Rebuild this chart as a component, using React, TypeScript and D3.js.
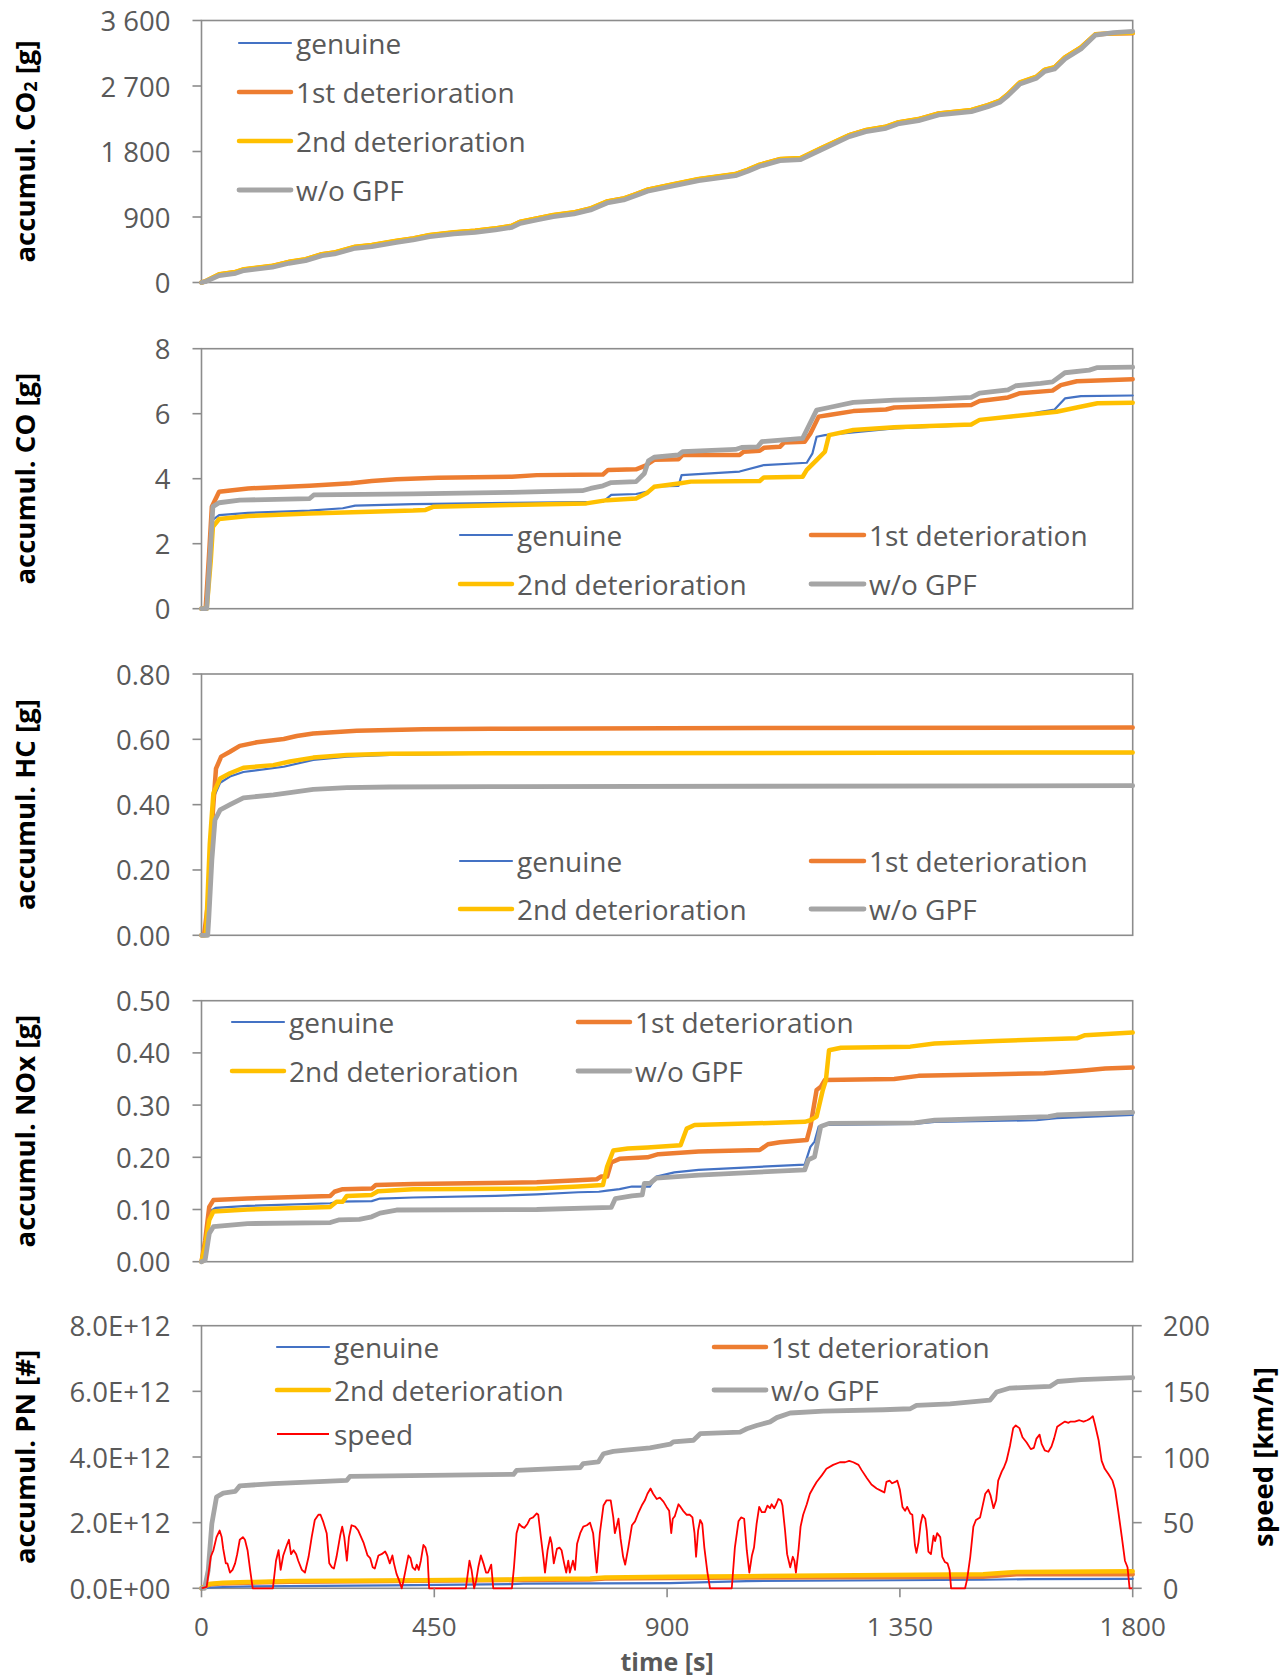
import React from 'react';
import * as d3 from 'd3';

// ---------- shared ----------
const TIME_TICKS = [0, 450, 900, 1350, 1800];
const SERIES_NAMES = ['genuine', '1st deterioration', '2nd deterioration', 'w/o GPF'];
const SERIES_COLORS = ['#4472C4', '#ED7D31', '#FFC000', '#A5A5A5'];
const SERIES_WIDTHS = [2.2, 4.5, 4.5, 4.8];

// ---------- CO2 (g) ----------
const CO2_TICKS = [0, 900, 1800, 2700, 3600];
const co2Time = [0, 7, 34, 66, 82, 137, 169, 201, 233, 257, 297, 329, 377, 409, 441, 488, 529, 568, 600, 616, 648, 680, 720, 752, 784, 816, 840, 862, 914, 961, 1032, 1056, 1079, 1118, 1158, 1197, 1252, 1284, 1323, 1346, 1386, 1425, 1488, 1520, 1543, 1559, 1582, 1614, 1630, 1649, 1669, 1700, 1728, 1763, 1800];
const co2Genuine = [0, 14, 105, 137, 174, 220, 275, 311, 380, 403, 481, 504, 563, 595, 641, 678, 701, 733, 769, 824, 870, 916, 953, 1008, 1104, 1145, 1205, 1265, 1342, 1411, 1479, 1539, 1608, 1685, 1699, 1832, 2015, 2084, 2130, 2189, 2235, 2313, 2359, 2427, 2487, 2579, 2739, 2817, 2913, 2946, 3083, 3220, 3403, 3418, 3425];
const co2First = [0, 15, 110, 143, 180, 227, 282, 318, 388, 411, 489, 512, 571, 604, 650, 687, 710, 742, 778, 833, 879, 925, 962, 1017, 1113, 1154, 1214, 1274, 1351, 1420, 1488, 1548, 1617, 1694, 1708, 1841, 2024, 2093, 2139, 2198, 2244, 2322, 2368, 2436, 2496, 2588, 2748, 2826, 2922, 2955, 3092, 3229, 3410, 3420, 3425];
const co2Second = [0, 16, 112, 145, 182, 229, 284, 320, 390, 413, 491, 514, 573, 606, 652, 689, 712, 744, 780, 835, 881, 927, 964, 1019, 1115, 1156, 1216, 1276, 1353, 1422, 1490, 1550, 1619, 1696, 1710, 1843, 2026, 2095, 2141, 2200, 2246, 2324, 2370, 2438, 2498, 2590, 2750, 2828, 2924, 2957, 3094, 3231, 3412, 3424, 3430];
const co2WoGpf = [0, 10, 95, 127, 164, 210, 264, 300, 369, 392, 470, 493, 552, 584, 630, 667, 690, 722, 758, 813, 859, 905, 942, 997, 1093, 1134, 1194, 1254, 1331, 1400, 1468, 1528, 1597, 1674, 1688, 1821, 2004, 2073, 2119, 2178, 2224, 2302, 2348, 2416, 2476, 2568, 2728, 2806, 2902, 2935, 3072, 3209, 3400, 3432, 3450];

// ---------- CO (g) [time, value] ----------
const CO_TICKS = [0, 2, 4, 6, 8];
const coGenuine = [[0, 0], [10, 0], [16, 1.5], [22, 2.73], [34, 2.88], [90, 2.95], [209, 3.02], [273, 3.09], [297, 3.17], [409, 3.22], [600, 3.26], [776, 3.29], [792, 3.5], [840, 3.53], [862, 3.6], [875, 3.76], [922, 3.78], [928, 4.11], [1040, 4.22], [1087, 4.42], [1170, 4.49], [1181, 4.78], [1189, 5.29], [1205, 5.34], [1339, 5.55], [1488, 5.65], [1504, 5.81], [1574, 5.91], [1622, 6.06], [1649, 6.13], [1669, 6.47], [1700, 6.54], [1800, 6.56]];
const coFirst = [[0, 0], [8, 0], [14, 1.5], [20, 3.14], [34, 3.6], [90, 3.7], [209, 3.78], [289, 3.86], [329, 3.93], [377, 3.98], [457, 4.03], [600, 4.06], [648, 4.11], [776, 4.13], [786, 4.27], [840, 4.29], [858, 4.4], [875, 4.58], [922, 4.6], [930, 4.73], [1040, 4.73], [1048, 4.83], [1079, 4.86], [1087, 4.95], [1118, 4.98], [1126, 5.11], [1166, 5.14], [1177, 5.39], [1193, 5.91], [1213, 5.96], [1260, 6.08], [1323, 6.13], [1339, 6.19], [1488, 6.27], [1504, 6.39], [1559, 6.5], [1582, 6.63], [1645, 6.71], [1661, 6.88], [1692, 7.0], [1800, 7.06]];
const coSecond = [[0, 0], [10, 0], [18, 1.5], [22, 2.52], [34, 2.76], [90, 2.85], [209, 2.93], [409, 3.02], [433, 3.04], [449, 3.14], [600, 3.19], [744, 3.24], [784, 3.34], [840, 3.39], [862, 3.57], [875, 3.75], [926, 3.86], [946, 3.91], [1079, 3.93], [1087, 4.04], [1162, 4.06], [1170, 4.27], [1189, 4.57], [1205, 4.83], [1213, 5.34], [1260, 5.5], [1339, 5.58], [1488, 5.67], [1504, 5.81], [1574, 5.93], [1653, 6.06], [1692, 6.19], [1732, 6.32], [1800, 6.34]];
const coWoGpf = [[0, 0], [10, 0], [16, 1.5], [22, 3.14], [34, 3.26], [74, 3.34], [209, 3.39], [217, 3.5], [409, 3.53], [600, 3.58], [736, 3.63], [752, 3.7], [776, 3.78], [792, 3.88], [840, 3.91], [856, 4.16], [864, 4.55], [875, 4.66], [922, 4.73], [930, 4.83], [1032, 4.9], [1044, 4.96], [1075, 4.98], [1083, 5.14], [1162, 5.24], [1173, 5.6], [1189, 6.11], [1213, 6.19], [1260, 6.35], [1339, 6.42], [1417, 6.45], [1488, 6.5], [1504, 6.63], [1559, 6.73], [1574, 6.86], [1622, 6.93], [1645, 6.98], [1669, 7.26], [1716, 7.34], [1732, 7.42], [1800, 7.43]];

// ---------- HC (g) ----------
const HC_TICKS = [0, 0.2, 0.4, 0.6, 0.8];
const hcGenuine = [[0, 0], [8, 0], [10, 0.05], [16, 0.28], [23, 0.42], [36, 0.467], [55, 0.486], [81, 0.5], [159, 0.516], [216, 0.537], [281, 0.547], [364, 0.552], [558, 0.556], [1800, 0.558]];
const hcFirst = [[0, 0], [5, 0], [15, 0.13], [22, 0.38], [28, 0.51], [38, 0.547], [55, 0.562], [74, 0.58], [107, 0.591], [159, 0.601], [184, 0.61], [216, 0.618], [300, 0.626], [429, 0.631], [558, 0.632], [900, 0.634], [1800, 0.636]];
const hcSecond = [[0, 0], [8, 0], [10, 0.05], [16, 0.28], [23, 0.435], [36, 0.48], [55, 0.496], [81, 0.513], [139, 0.521], [171, 0.532], [216, 0.544], [281, 0.552], [364, 0.556], [558, 0.557], [1800, 0.56]];
const hcWoGpf = [[0, 0], [12, 0], [14, 0.05], [20, 0.23], [26, 0.353], [36, 0.384], [55, 0.4], [81, 0.421], [139, 0.43], [171, 0.437], [216, 0.447], [281, 0.452], [364, 0.454], [558, 0.455], [1800, 0.458]];

// ---------- NOx (g) ----------
const NOX_TICKS = [0, 0.1, 0.2, 0.3, 0.4, 0.5];
const noxGenuine = [[0, 0], [7, 0.04], [15, 0.096], [27, 0.103], [89, 0.107], [249, 0.112], [265, 0.115], [329, 0.116], [345, 0.121], [409, 0.123], [568, 0.126], [648, 0.129], [728, 0.133], [768, 0.134], [784, 0.136], [808, 0.139], [832, 0.144], [867, 0.144], [879, 0.163], [914, 0.171], [961, 0.176], [1166, 0.186], [1177, 0.22], [1185, 0.23], [1193, 0.259], [1205, 0.262], [1378, 0.264], [1417, 0.268], [1614, 0.271], [1653, 0.275], [1800, 0.281]];
const noxFirst = [[0, 0], [7, 0.04], [15, 0.105], [23, 0.118], [89, 0.121], [249, 0.126], [257, 0.134], [273, 0.139], [329, 0.14], [337, 0.147], [409, 0.149], [648, 0.152], [728, 0.156], [764, 0.158], [772, 0.163], [784, 0.163], [792, 0.19], [808, 0.197], [862, 0.2], [883, 0.206], [961, 0.211], [1079, 0.214], [1095, 0.225], [1118, 0.229], [1170, 0.233], [1177, 0.259], [1189, 0.329], [1197, 0.335], [1205, 0.348], [1339, 0.35], [1386, 0.356], [1535, 0.359], [1629, 0.361], [1700, 0.366], [1747, 0.37], [1800, 0.372]];
const noxSecond = [[0, 0], [7, 0.03], [15, 0.08], [23, 0.096], [89, 0.1], [249, 0.105], [261, 0.115], [273, 0.115], [281, 0.126], [329, 0.128], [341, 0.135], [409, 0.139], [648, 0.14], [728, 0.144], [776, 0.147], [784, 0.182], [796, 0.213], [824, 0.217], [862, 0.219], [926, 0.223], [938, 0.255], [953, 0.262], [1071, 0.265], [1166, 0.268], [1177, 0.271], [1189, 0.278], [1201, 0.329], [1207, 0.348], [1213, 0.405], [1236, 0.41], [1370, 0.412], [1417, 0.418], [1535, 0.423], [1692, 0.428], [1708, 0.434], [1800, 0.439]];
const noxWoGpf = [[0, 0], [7, 0.003], [15, 0.054], [23, 0.067], [89, 0.073], [249, 0.075], [265, 0.08], [305, 0.081], [329, 0.086], [345, 0.093], [377, 0.099], [648, 0.1], [792, 0.104], [800, 0.121], [832, 0.126], [852, 0.128], [856, 0.15], [867, 0.15], [879, 0.16], [961, 0.166], [1166, 0.176], [1173, 0.195], [1185, 0.201], [1197, 0.259], [1213, 0.265], [1378, 0.266], [1417, 0.271], [1637, 0.278], [1653, 0.281], [1800, 0.286]];

// ---------- PN (#, in units of 1E12) ----------
const PN_TICKS = [0, 2e12, 4e12, 6e12, 8e12];
const SPEED_TICKS = [0, 50, 100, 150, 200];
const pnGenuine = [[0, 0], [15, 0.02], [42, 0.04], [100, 0.06], [364, 0.09], [600, 0.13], [622, 0.14], [906, 0.16], [1054, 0.22], [1511, 0.26], [1600, 0.28], [1800, 0.29]];
const pnFirst = [[0, 0], [10, 0.08], [18, 0.12], [42, 0.15], [90, 0.17], [171, 0.2], [364, 0.22], [600, 0.25], [751, 0.27], [780, 0.3], [906, 0.31], [1054, 0.33], [1511, 0.35], [1576, 0.43], [1800, 0.43]];
const pnSecond = [[0, 0], [10, 0.1], [18, 0.14], [42, 0.17], [90, 0.19], [171, 0.22], [364, 0.24], [600, 0.27], [622, 0.28], [751, 0.3], [780, 0.33], [906, 0.35], [1054, 0.37], [1511, 0.43], [1560, 0.48], [1576, 0.5], [1800, 0.52]];
const pnWoGpf = [[0, 0], [6, 0], [13, 0.55], [20, 1.97], [29, 2.78], [42, 2.9], [65, 2.95], [74, 3.12], [139, 3.19], [281, 3.29], [287, 3.41], [603, 3.47], [609, 3.59], [732, 3.68], [738, 3.8], [767, 3.85], [777, 4.1], [796, 4.17], [815, 4.2], [867, 4.28], [906, 4.39], [912, 4.46], [951, 4.51], [964, 4.71], [1041, 4.76], [1054, 4.86], [1073, 4.96], [1099, 5.07], [1112, 5.2], [1138, 5.34], [1202, 5.4], [1318, 5.44], [1370, 5.47], [1382, 5.57], [1447, 5.62], [1524, 5.73], [1537, 5.98], [1563, 6.1], [1640, 6.15], [1655, 6.3], [1700, 6.36], [1800, 6.42]];

// ---------- speed (km/h) ----------
const speedTrace = [[0, 0], [10, 1], [18, 24], [23, 29], [29, 39], [35, 44], [39, 39], [42, 30], [47, 19], [50, 19], [55, 12], [60, 14], [65, 19], [69, 26], [74, 37], [80, 39], [84, 37], [89, 29], [94, 14], [99, 0], [138, 0], [144, 21], [149, 29], [153, 14], [158, 25], [165, 33], [169, 37], [173, 26], [178, 29], [183, 26], [187, 21], [194, 14], [200, 12], [207, 24], [213, 39], [219, 52], [226, 56], [230, 56], [235, 51], [242, 42], [247, 19], [252, 16], [256, 15], [261, 24], [268, 40], [272, 47], [276, 39], [281, 21], [285, 39], [290, 48], [297, 47], [303, 44], [313, 35], [321, 25], [326, 23], [331, 16], [335, 15], [342, 25], [348, 26], [355, 28], [359, 25], [364, 19], [369, 25], [372, 19], [377, 11], [382, 6], [387, 0], [390, 5], [395, 15], [400, 25], [404, 23], [408, 16], [413, 14], [416, 18], [420, 14], [424, 21], [429, 33], [433, 31], [437, 24], [440, 0], [511, 0], [518, 21], [522, 14], [527, 0], [531, 6], [535, 16], [540, 25], [545, 19], [550, 12], [554, 12], [560, 18], [564, 0], [600, 0], [604, 16], [609, 42], [614, 49], [619, 47], [624, 46], [630, 49], [635, 53], [641, 54], [648, 57], [651, 56], [656, 39], [661, 23], [664, 12], [669, 29], [674, 39], [677, 34], [681, 19], [687, 30], [692, 31], [696, 29], [701, 19], [705, 12], [709, 21], [712, 12], [718, 21], [722, 14], [726, 34], [732, 42], [738, 47], [745, 48], [751, 50], [757, 42], [764, 12], [770, 42], [777, 63], [783, 67], [791, 67], [796, 54], [799, 42], [803, 48], [806, 53], [810, 38], [815, 24], [819, 18], [825, 31], [832, 48], [838, 51], [844, 57], [851, 63], [857, 67], [862, 72], [868, 76], [873, 72], [880, 68], [886, 69], [893, 66], [899, 62], [904, 59], [908, 42], [911, 53], [915, 55], [922, 64], [926, 62], [931, 59], [938, 56], [944, 56], [949, 54], [953, 42], [956, 24], [960, 44], [964, 52], [968, 49], [972, 31], [978, 12], [983, 0], [1025, 0], [1031, 31], [1038, 51], [1043, 54], [1049, 53], [1054, 29], [1059, 12], [1064, 25], [1068, 31], [1073, 49], [1078, 62], [1083, 58], [1089, 58], [1094, 63], [1099, 61], [1102, 64], [1107, 61], [1111, 64], [1115, 68], [1120, 67], [1123, 63], [1128, 44], [1132, 26], [1138, 16], [1143, 24], [1146, 21], [1149, 12], [1154, 29], [1158, 47], [1163, 56], [1170, 64], [1176, 72], [1183, 77], [1189, 81], [1199, 86], [1208, 91], [1221, 94], [1234, 96], [1244, 96], [1252, 97], [1260, 96], [1270, 94], [1276, 90], [1286, 84], [1295, 79], [1305, 76], [1315, 74], [1320, 73], [1324, 81], [1330, 82], [1335, 80], [1341, 81], [1345, 82], [1350, 75], [1355, 62], [1360, 59], [1364, 62], [1370, 57], [1374, 56], [1379, 33], [1382, 27], [1386, 35], [1390, 49], [1394, 56], [1399, 53], [1402, 44], [1405, 28], [1410, 26], [1415, 40], [1418, 36], [1422, 42], [1428, 39], [1432, 24], [1437, 20], [1442, 19], [1446, 14], [1449, 0], [1476, 0], [1480, 7], [1486, 24], [1492, 47], [1497, 52], [1505, 54], [1510, 63], [1515, 72], [1521, 75], [1525, 71], [1531, 61], [1536, 67], [1540, 82], [1547, 89], [1551, 92], [1556, 97], [1563, 109], [1569, 122], [1574, 124], [1581, 122], [1587, 115], [1595, 111], [1603, 106], [1609, 107], [1614, 114], [1620, 117], [1624, 110], [1630, 105], [1637, 104], [1643, 108], [1648, 114], [1654, 123], [1661, 125], [1669, 127], [1676, 126], [1680, 127], [1688, 127], [1697, 128], [1705, 127], [1712, 128], [1717, 129], [1723, 131], [1727, 125], [1734, 113], [1740, 97], [1746, 91], [1753, 87], [1761, 82], [1766, 75], [1772, 59], [1779, 39], [1785, 21], [1790, 16], [1794, 0], [1800, 0]];

// ---------- layout & styling ----------
const W = 1287;
const H = 1680;
const PLOT_LEFT = 201.5;
const PLOT_RIGHT = 1132.7;
const FONT = "'Open Sans', 'Noto Sans', sans-serif";
const TICK_COLOR = '#595959';
const FRAME_COLOR = '#8C8C8C';
const TICK_SIZE = 27.5;
const XTICK_SIZE = 26;
const LEGEND_SIZE = 28;
const TITLE_SIZE = 27.5;
const XTITLE_SIZE = 25;

const fmtSpace = (d: number) => d3.format(',')(d).replace(/,/g, ' ');
const fmt2 = d3.format('.2f');
const fmtInt = d3.format('d');
const fmtSci = (d: number) => {
  const [m, e] = d.toExponential(1).split('e');
  const sign = e[0] === '-' ? '-' : '+';
  const digits = e.replace(/[+-]/, '').padStart(2, '0');
  return `${m}E${sign}${digits}`;
};

const toPairs = (ts: number[], vs: number[]) => ts.map((t, i) => [t, vs[i]]);
const scalePN = (arr: number[][]) => arr.map(([t, v]) => [t, v * 1e12]);

type Panel = {
  top: number;
  bottom: number;
  domain: [number, number];
  ticks: number[];
  fmt: (d: number) => string;
  title: string;
  series: number[][][];
  legendCols: { x1: number; x2: number; tx: number }[];
  legendRows: number[];
  legendPos: [number, number][];
  xAxis?: boolean;
};

const panels: Panel[] = [
  {
    top: 20.5, bottom: 282.5, domain: [0, 3600], ticks: CO2_TICKS, fmt: fmtSpace, title: 'co2',
    series: [toPairs(co2Time, co2Genuine), toPairs(co2Time, co2First), toPairs(co2Time, co2Second), toPairs(co2Time, co2WoGpf)],
    legendCols: [{ x1: 239, x2: 291, tx: 296 }],
    legendRows: [43, 92, 141, 190],
    legendPos: [[0, 0], [0, 1], [0, 2], [0, 3]],
  },
  {
    top: 348.7, bottom: 608.7, domain: [0, 8], ticks: CO_TICKS, fmt: fmtInt, title: 'accumul. CO [g]',
    series: [coGenuine, coFirst, coSecond, coWoGpf],
    legendCols: [{ x1: 460, x2: 512, tx: 517 }, { x1: 811, x2: 864, tx: 869 }],
    legendRows: [535, 584],
    legendPos: [[0, 0], [1, 0], [0, 1], [1, 1]],
  },
  {
    top: 674, bottom: 935.3, domain: [0, 0.8], ticks: HC_TICKS, fmt: fmt2, title: 'accumul. HC [g]',
    series: [hcGenuine, hcFirst, hcSecond, hcWoGpf],
    legendCols: [{ x1: 460, x2: 512, tx: 517 }, { x1: 811, x2: 864, tx: 869 }],
    legendRows: [861, 909],
    legendPos: [[0, 0], [1, 0], [0, 1], [1, 1]],
  },
  {
    top: 1000.7, bottom: 1261.7, domain: [0, 0.5], ticks: NOX_TICKS, fmt: fmt2, title: 'accumul. NOx [g]',
    series: [noxGenuine, noxFirst, noxSecond, noxWoGpf],
    legendCols: [{ x1: 232, x2: 284, tx: 289 }, { x1: 578, x2: 630, tx: 635 }],
    legendRows: [1022, 1071],
    legendPos: [[0, 0], [1, 0], [0, 1], [1, 1]],
  },
  {
    top: 1325.7, bottom: 1588.3, domain: [0, 8e12], ticks: PN_TICKS, fmt: fmtSci, title: 'accumul. PN [#]',
    series: [scalePN(pnGenuine), scalePN(pnFirst), scalePN(pnSecond), scalePN(pnWoGpf)],
    legendCols: [{ x1: 277, x2: 329, tx: 334 }, { x1: 714, x2: 766, tx: 771 }],
    legendRows: [1347, 1390, 1434],
    legendPos: [[0, 0], [1, 0], [0, 1], [1, 1]],
    xAxis: true,
  },
];

const x = d3.scaleLinear().domain([0, 1800]).range([PLOT_LEFT, PLOT_RIGHT]);

function PanelView({ p }: { p: Panel }) {
  const y = d3.scaleLinear().domain(p.domain).range([p.bottom, p.top]);
  const line = d3.line<number[]>().x((d) => x(d[0])).y((d) => y(d[1]));
  const midY = (p.top + p.bottom) / 2;
  const speedY = d3.scaleLinear().domain([0, 200]).range([p.bottom, p.top]);
  const speedLine = d3.line<number[]>().x((d) => x(d[0])).y((d) => speedY(d[1]));

  return (
    <g>
      <rect x={PLOT_LEFT} y={p.top} width={PLOT_RIGHT - PLOT_LEFT} height={p.bottom - p.top}
        fill="none" stroke={FRAME_COLOR} strokeWidth={1.6} />
      {p.ticks.map((t) => (
        <g key={t}>
          <line x1={PLOT_LEFT - 9} x2={PLOT_LEFT} y1={y(t)} y2={y(t)} stroke={FRAME_COLOR} strokeWidth={1.6} />
          <text x={PLOT_LEFT - 31} y={y(t)} textAnchor="end" dominantBaseline="central"
            fontFamily={FONT} fontSize={TICK_SIZE} fill={TICK_COLOR}>{p.fmt(t)}</text>
        </g>
      ))}
      <text transform={`translate(24,${midY}) rotate(-90)`} textAnchor="middle" dominantBaseline="central"
        fontFamily={FONT} fontSize={TITLE_SIZE} fontWeight="bold" fill="#000">
        {p.title === 'co2' ? (
          <>accumul. CO<tspan dy={6} fontSize={18}>2</tspan><tspan dy={-6}> [g]</tspan></>
        ) : p.title}
      </text>
      {p.series.map((s, i) => (
        <path key={i} d={line(s) || ''} fill="none" stroke={SERIES_COLORS[i]}
          strokeWidth={SERIES_WIDTHS[i]} strokeLinejoin="round" strokeLinecap="round" />
      ))}
      {p.xAxis && (
        <>
          <path d={speedLine(speedTrace) || ''} fill="none" stroke="#FF0000" strokeWidth={1.8} strokeLinejoin="round" />
          {SPEED_TICKS.map((t) => (
            <g key={'s' + t}>
              <line x1={PLOT_RIGHT} x2={PLOT_RIGHT + 9} y1={speedY(t)} y2={speedY(t)} stroke={FRAME_COLOR} strokeWidth={1.6} />
              <text x={PLOT_RIGHT + 30} y={speedY(t)} textAnchor="start" dominantBaseline="central"
                fontFamily={FONT} fontSize={TICK_SIZE} fill={TICK_COLOR}>{fmtInt(t)}</text>
            </g>
          ))}
          <text transform={`translate(1262,${midY}) rotate(-90)`} textAnchor="middle" dominantBaseline="central"
            fontFamily={FONT} fontSize={TITLE_SIZE} fontWeight="bold" fill="#000">speed [km/h]</text>
          {TIME_TICKS.map((t) => (
            <g key={'x' + t}>
              <line x1={x(t)} x2={x(t)} y1={p.bottom} y2={p.bottom + 9} stroke={FRAME_COLOR} strokeWidth={1.6} />
              <text x={x(t)} y={1626} textAnchor="middle" dominantBaseline="central"
                fontFamily={FONT} fontSize={XTICK_SIZE} fill={TICK_COLOR}>{fmtSpace(t)}</text>
            </g>
          ))}
          <text x={(PLOT_LEFT + PLOT_RIGHT) / 2} y={1661} textAnchor="middle" dominantBaseline="central"
            fontFamily={FONT} fontSize={XTITLE_SIZE} fontWeight="bold" fill={TICK_COLOR}>time [s]</text>
        </>
      )}
      {p.legendPos.map(([c, r], i) => {
        const col = p.legendCols[c];
        const ry = p.legendRows[r];
        return (
          <g key={'l' + i}>
            <line x1={col.x1} x2={col.x2} y1={ry} y2={ry} stroke={SERIES_COLORS[i]} strokeWidth={SERIES_WIDTHS[i]} strokeLinecap="round" />
            <text x={col.tx} y={ry} dominantBaseline="central" fontFamily={FONT} fontSize={LEGEND_SIZE} fill={TICK_COLOR}>{SERIES_NAMES[i]}</text>
          </g>
        );
      })}
      {p.xAxis && (
        <g>
          <line x1={p.legendCols[0].x1} x2={p.legendCols[0].x2} y1={p.legendRows[2]} y2={p.legendRows[2]} stroke="#FF0000" strokeWidth={1.8} />
          <text x={p.legendCols[0].tx} y={p.legendRows[2]} dominantBaseline="central" fontFamily={FONT} fontSize={LEGEND_SIZE} fill={TICK_COLOR}>speed</text>
        </g>
      )}
    </g>
  );
}

export default function App() {
  return (
    <svg width={W} height={H} viewBox={`0 0 ${W} ${H}`}
      style={{ position: 'absolute', left: 0, top: 0, background: '#fff' }}>
      <rect width={W} height={H} fill="#fff" />
      {panels.map((p, i) => <PanelView key={i} p={p} />)}
    </svg>
  );
}
